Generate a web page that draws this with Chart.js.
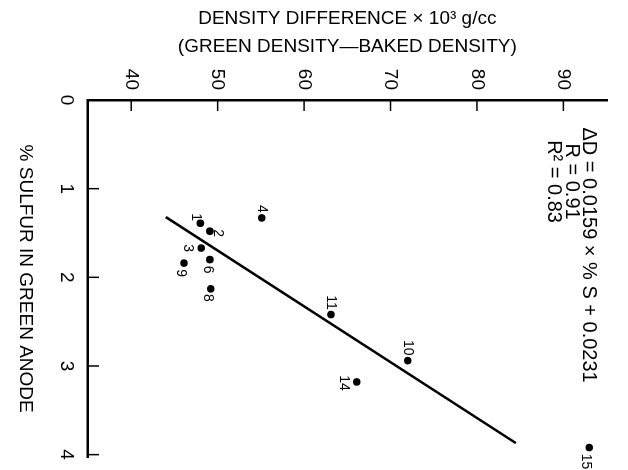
<!DOCTYPE html>
<html>
<head>
<meta charset="utf-8">
<script src="https://cdn.jsdelivr.net/npm/chart.js@4.4.1/dist/chart.umd.min.js"></script>
<style>
  html, body { margin: 0; padding: 0; background: #fff; overflow: hidden; }
  /* the figure is printed turned a quarter turn clockwise */
  #wrap { position: absolute; left: 0; top: 0; width: 470px; height: 628px;
          transform-origin: 0 0; transform: translate(628px, 0) rotate(90deg); }
</style>
</head>
<body>
<div id="wrap"><canvas id="chart" width="470" height="628"></canvas></div>
<script>
const sampleIds   = ['1', '2', '3', '4', '6', '8', '9', '10', '11', '14', '15'];
const sulfurPct   = [1.39, 1.48, 1.67, 1.33, 1.80, 2.13, 1.84, 2.94, 2.42, 3.18, 3.92];
const densityDiff = [48.0, 49.1, 48.1, 55.1, 49.1, 49.2, 46.1, 72.0, 63.1, 66.1, 93.0];

const fitSulfur  = [1.32, 3.87];
const fitDensity = [44.0, 84.5];

const sulfurTicks  = [0, 1, 2, 3, 4];
const densityTicks = [40, 50, 60, 70, 80, 90];

const eqLines = ['ΔD = 0.0159 × % S + 0.0231', 'R = 0.91', 'R² = 0.83'];

const FONT = "'Liberation Sans', Arial, Helvetica, sans-serif";

// where each sample number sits around its dot (px)
const labelOffsets = {
  '1': [-6, 5], '2': [2, -8], '3': [0, 13], '4': [-9, 0], '6': [10, 2], '8': [9, 3],
  '9': [10, 3], '10': [-13, 0], '11': [-12, 0], '14': [1, 13], '15': [14, 3]
};

const pointData = sulfurPct.map((s, i) => ({ x: s, y: densityDiff[i] }));
const fitData = fitSulfur.map((s, i) => ({ x: s, y: fitDensity[i] }));

const extras = {
  id: 'extras',
  afterDraw(chart) {
    const { ctx, chartArea } = chart;
    const x = chart.scales.x, y = chart.scales.y;
    ctx.save();
    ctx.strokeStyle = '#000';
    ctx.lineWidth = 1.5;
    // tick marks point into the plot
    sulfurTicks.forEach(v => {
      const px = x.getPixelForValue(v);
      ctx.beginPath();
      ctx.moveTo(px, chartArea.bottom);
      ctx.lineTo(px, chartArea.bottom - 11);
      ctx.stroke();
    });
    densityTicks.forEach(v => {
      const py = y.getPixelForValue(v);
      ctx.beginPath();
      ctx.moveTo(chartArea.left, py);
      ctx.lineTo(chartArea.left + 11, py);
      ctx.stroke();
    });

    ctx.fillStyle = '#000';
    ctx.font = '14px ' + FONT;
    ctx.textAlign = 'center';
    ctx.textBaseline = 'middle';
    sampleIds.forEach((id, i) => {
      const off = labelOffsets[id];
      ctx.fillText(id, x.getPixelForValue(sulfurPct[i]) + off[0], y.getPixelForValue(densityDiff[i]) + off[1]);
    });

    ctx.font = '20px ' + FONT;
    ctx.textAlign = 'left';
    ctx.fillText(eqLines[0], x.getPixelForValue(0.31), y.getPixelForValue(92.9));
    ctx.textAlign = 'center';
    ctx.fillText(eqLines[1], x.getPixelForValue(0.92), y.getPixelForValue(90.9));
    ctx.fillText(eqLines[2], x.getPixelForValue(0.92), y.getPixelForValue(88.9));
    ctx.restore();
  }
};

new Chart(document.getElementById('chart').getContext('2d'), {
  type: 'scatter',
  data: {
    datasets: [
      { data: pointData, pointRadius: 3.8, pointBackgroundColor: '#000', pointBorderWidth: 0 },
      { type: 'line', data: fitData, borderColor: '#000', borderWidth: 2.5, pointRadius: 0, fill: false, tension: 0 }
    ]
  },
  options: {
    responsive: false,
    animation: false,
    devicePixelRatio: 1,
    layout: { padding: { top: 3, right: 10, left: 0, bottom: 0 } },
    plugins: { legend: { display: false }, tooltip: { enabled: false } },
    scales: {
      x: {
        type: 'linear', position: 'bottom', min: 0, max: 4.03,
        afterBuildTicks: s => { s.ticks = sulfurTicks.map(v => ({ value: v })); },
        afterFit: s => { s.height = 88; },
        grid: { display: false, drawTicks: false },
        border: { display: true, color: '#000', width: 2.5 },
        ticks: { color: '#000', font: { family: FONT, size: 19 }, padding: 10, maxRotation: 0, autoSkip: false },
        title: { display: true, text: '% SULFUR IN GREEN ANODE', color: '#000',
                 font: { family: FONT, size: 19 }, padding: { top: 0, bottom: 14 } }
      },
      y: {
        type: 'linear', position: 'left', min: 35, max: 95,
        afterBuildTicks: s => { s.ticks = densityTicks.map(v => ({ value: v })); },
        afterFit: s => { s.width = 100; },
        grid: { display: false, drawTicks: false },
        border: { display: true, color: '#000', width: 2.5 },
        ticks: { color: '#000', font: { family: FONT, size: 19 }, padding: 10, autoSkip: false },
        title: { display: true, text: ['DENSITY DIFFERENCE × 10³ g/cc', '(GREEN DENSITY—BAKED DENSITY)'], color: '#000',
                 font: { family: FONT, size: 19, lineHeight: 1.45 }, padding: { top: 5, bottom: 0 } }
      }
    }
  },
  plugins: [extras]
});
</script>
</body>
</html>
